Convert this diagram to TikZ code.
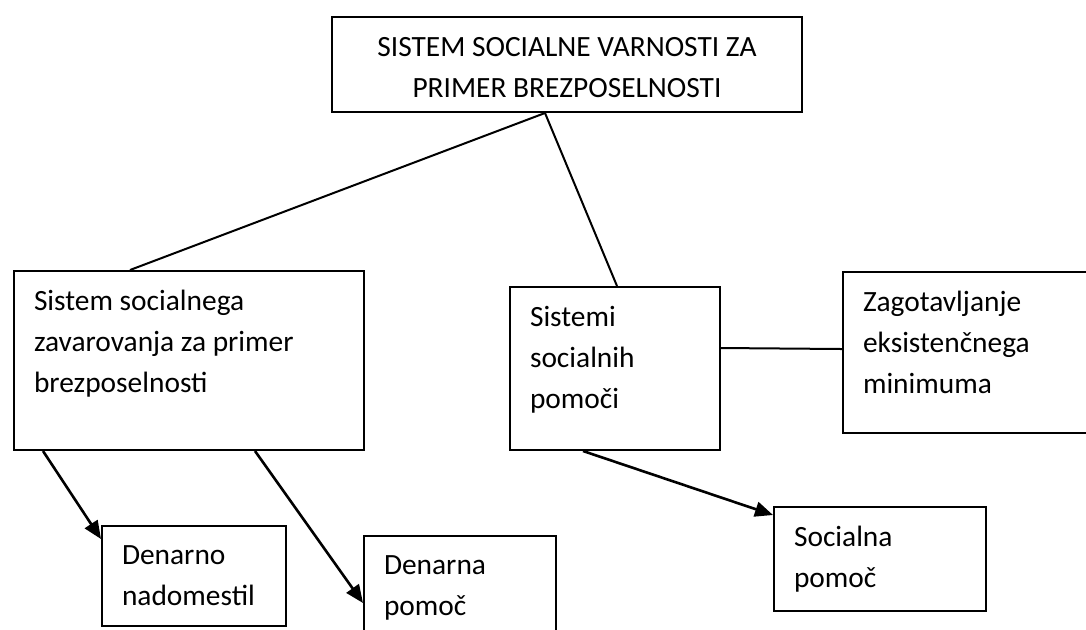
\documentclass[tikz,border=0pt]{standalone}
\usepackage{fontspec}
\setmainfont{Carlito}
\usetikzlibrary{arrows.meta,calc}
\newcommand{\boxtxt}[3]{\parbox[c][#2][t]{#1}{\leftskip=10pt\vspace*{9.6pt}#3}}
\begin{document}
\begin{tikzpicture}[x=0.5pt,y=-0.5pt,
    box/.style={draw, line width=1pt, anchor=north west, inner sep=0pt, font=\fontsize{14.7pt}{20.5pt}\selectfont},
    con/.style={line width=1pt},
    arr/.style={line width=1.3pt, -{Triangle[length=9pt,width=7.5pt]}}]
    \clip (0,0) rectangle (1086,629);
    \node[box] (top) at (331,16) {\parbox[c][47.5pt][t]{235pt}{\centering\vspace*{10.2pt}SISTEM SOCIALNE VARNOSTI ZA\\PRIMER BREZPOSELNOSTI}};
    \node[box] (szav) at (13,270) {\boxtxt{175pt}{89.5pt}{Sistem socialnega\\zavarovanja za primer\\brezposelnosti}};
    \node[box] (sist) at (509,286) {\boxtxt{105pt}{81.5pt}{Sistemi\\socialnih\\pomoči}};
    \node[box] (zag) at (842,271) {\boxtxt{130pt}{80.5pt}{Zagotavljanje\\eksistenčnega\\minimuma}};
    \node[box] (deno) at (101,525) {\boxtxt{92pt}{50pt}{Denarno\\nadomestil}};
    \node[box] (dena) at (363,535) {\boxtxt{96pt}{65pt}{Denarna\\pomoč}};
    \node[box] (soc) at (773,506) {\boxtxt{106pt}{52pt}{Socialna\\pomoč}};
    \draw[con] ($(top.south west)+(214,0)$) -- ($(szav.north west)+(117,0)$);
    \draw[con] ($(top.south west)+(214,0)$) -- ($(sist.north west)+(108,0)$);
    \draw[con] ($(sist.north east)+(0,62)$) -- ($(zag.north west)+(0,78)$);
    \draw[arr] ($(szav.south west)+(30,0)$) -- ($(deno.north west)+(0,14)$);
    \draw[arr] ($(szav.south west)+(242,0)$) -- ($(dena.north west)+(0,68)$);
    \draw[arr] ($(sist.south west)+(74,0)$) -- ($(soc.north west)+(0,9)$);
\end{tikzpicture}
\end{document}
